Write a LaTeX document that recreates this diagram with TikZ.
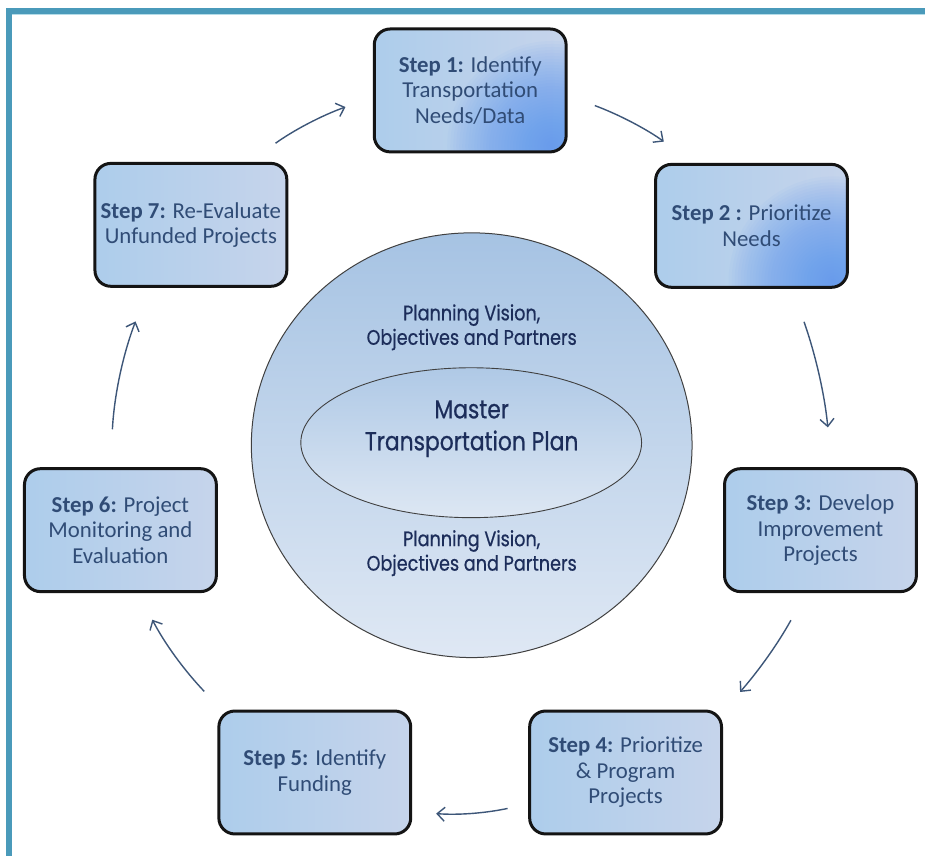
\documentclass[tikz,border=0pt]{standalone}
\usepackage{fontspec}
\setmainfont{Carlito}
\newfontfamily\futura[FakeStretch=0.84,FakeBold=0.6]{Poppins}
\usetikzlibrary{arrows.meta,shapes.geometric}
\definecolor{framec}{HTML}{4A9ABA}
\definecolor{framelt}{HTML}{B4DCE8}
\definecolor{boxA}{HTML}{ADCDEB}
\definecolor{boxB}{HTML}{C6D4EB}
\definecolor{hlblue}{HTML}{5A98F0}
\definecolor{steptext}{HTML}{304C76}
\definecolor{ctext}{HTML}{1C2D5A}
\definecolor{arrowc}{HTML}{3D5678}
\definecolor{circtop}{HTML}{A6C3E3}
\definecolor{circbot}{HTML}{DFE8F4}
\definecolor{ovaltop}{HTML}{AFC9E6}
\definecolor{ovalbot}{HTML}{DDE7F3}
\begin{document}
\begin{tikzpicture}[x=1pt,y=1pt,
  stepbox/.style={draw=black!92, line width=3pt, rounded corners=16pt,
    minimum width=192pt, minimum height=123pt, inner sep=0pt, align=center,
    text=steptext, font=\fontsize{22.8}{25.5}\selectfont,
    left color=boxA, right color=boxB},
  spotbox/.style={stepbox, path picture={
    \foreach \rr in {3,6,...,105}{
      \fill[hlblue, opacity=0.045]
        ([xshift=-14pt,yshift=6pt]path picture bounding box.south east) circle (\rr pt);}}},
  ctxt/.style={align=center, text=ctext, font=\futura\fontsize{21}{24.5}\selectfont},
  arr/.style={draw=arrowc, line width=1.4pt,
    -{Straight Barb[length=7.5pt,width=14pt,line width=1.4pt]}}]
% background and frame
\fill[white] (0,0) rectangle (926,857);
\fill[framec] (6,0) rectangle (12,849);
\fill[framec] (6,843) rectangle (926,849);
\draw[framelt, line width=1.2pt] (12,842.2) -- (926,842.2);
% central circle and oval
\node[draw=black!75, line width=1pt, ellipse, inner sep=0pt,
  minimum width=441pt, minimum height=425pt,
  top color=circtop, bottom color=circbot] (circ) at (472,411.5) {};
\node[draw=black!75, line width=0.9pt, ellipse, inner sep=0pt,
  minimum width=341pt, minimum height=150pt,
  top color=ovaltop, bottom color=ovalbot] (oval) at (471.5,414) {};
\node[ctxt] (pv1) at (472,529.5) {Planning Vision,\\Objectives and Partners};
\node[ctxt, font=\futura\fontsize{26}{32}\selectfont] (mtp) at (472,428) {Master\\Transportation Plan};
\node[ctxt] (pv2) at (472,303.5) {Planning Vision,\\Objectives and Partners};
% steps
\node[spotbox] (s1) at (470.5,766.5) {\textbf{Step 1:} Identify\\Transportation\\Needs/Data};
\node[spotbox] (s2) at (752,631) {\textbf{Step 2 :} Prioritize\\Needs};
\node[stepbox] (s3) at (821,326.5) {\textbf{Step 3:} Develop\\Improvement\\Projects};
\node[stepbox] (s4) at (626,84) {\textbf{Step 4:} Prioritize\\\& Program\\Projects};
\node[stepbox] (s5) at (315,84) {\textbf{Step 5:} Identify\\Funding};
\node[stepbox] (s6) at (120.5,326.5) {\textbf{Step 6:} Project\\Monitoring and\\Evaluation};
\node[stepbox] (s7) at (191,632) {\textbf{Step 7:} Re-Evaluate\\Unfunded Projects};
% arrows
\draw[arr, shorten <=29pt, shorten >=36pt] (s1.-3) to[bend left=8] (s2.133);
\draw[arr, shorten <=35pt, shorten >=40pt] (s2.-57.2) to[bend left=7] (s3.80.4);
\draw[arr, shorten <=31pt, shorten >=26pt] (s3.-103.6) to[bend left=6] (s4.32.7);
\draw[arr, shorten <=21pt, shorten >=24pt] (s4.-162) to[bend left=8] (s5.-22.5);
\draw[arr, shorten <=25pt, shorten >=30pt] (s5.146.9) to[bend left=8] (s6.-74.4);
\draw[arr, shorten <=38pt, shorten >=36pt] (s6.99.5) to[bend left=9] (s7.-124);
\draw[arr, shorten <=32pt, shorten >=29pt] (s7.47.2) to[bend left=8] (s1.184);
\end{tikzpicture}
\end{document}
